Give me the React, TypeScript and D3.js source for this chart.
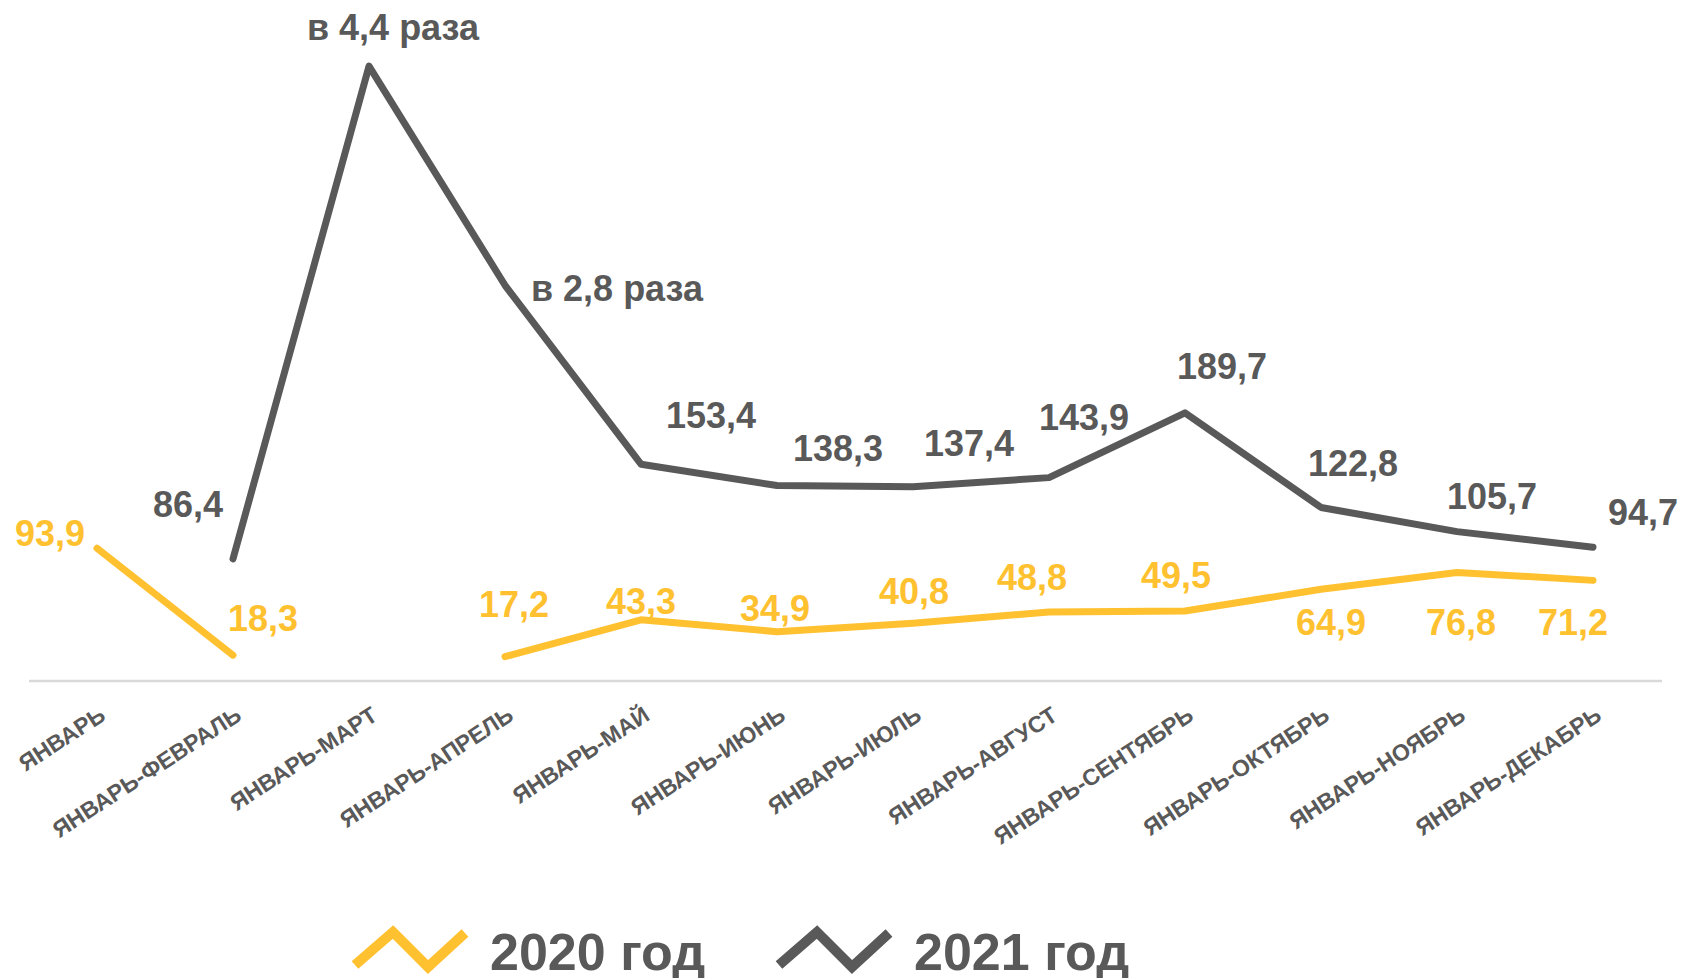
import * as d3 from 'd3';
import React from "react";

// categories and values
const months = [
    'ЯНВАРЬ', 'ЯНВАРЬ-ФЕВРАЛЬ', 'ЯНВАРЬ-МАРТ', 'ЯНВАРЬ-АПРЕЛЬ', 'ЯНВАРЬ-МАЙ', 'ЯНВАРЬ-ИЮНЬ',
    'ЯНВАРЬ-ИЮЛЬ', 'ЯНВАРЬ-АВГУСТ', 'ЯНВАРЬ-СЕНТЯБРЬ', 'ЯНВАРЬ-ОКТЯБРЬ', 'ЯНВАРЬ-НОЯБРЬ', 'ЯНВАРЬ-ДЕКАБРЬ',
];
const values2020: (number | null)[] = [93.9, 18.3, null, 17.2, 43.3, 34.9, 40.8, 48.8, 49.5, 64.9, 76.8, 71.2];
const values2021: (number | null)[] = [null, 86.4, 435, 280, 153.4, 138.3, 137.4, 143.9, 189.7, 122.8, 105.7, 94.7];
const labels2020 = ['93,9', '18,3', '', '17,2', '43,3', '34,9', '40,8', '48,8', '49,5', '64,9', '76,8', '71,2'];
const labels2021 = ['', '86,4', 'в 4,4 раза', 'в 2,8 раза', '153,4', '138,3', '137,4', '143,9', '189,7', '122,8', '105,7', '94,7'];
const legendNames = ['2020 год', '2021 год'];

// hand placed label offsets (px from the point), as in the source chart
const off2020 = [[-47, -15], [30, -37], [0, 0], [9, -53], [0, -19], [-2, -24], [1, -32], [-17, -35], [-9, -36], [10, 33], [4, 50], [-20, 42]];
const off2021 = [[0, 0], [-45, -55], [24, -39], [112, 3], [70, -49], [61, -37], [56, -44], [35, -61], [37, -47], [32, -44], [35, -36], [50, -35]];

const YELLOW = '#FFC12F';
const GRAY = '#595959';
const FONT = '"Liberation Sans", Arial, sans-serif';

const W = 1683, H = 978;

export default function App() {
    const x = d3.scalePoint<string>().domain(months).range([97, 1593]);
    const y = d3.scaleLinear().domain([0, 450]).range([681, 45]);

    const lineGen = d3.line<number | null>()
        .defined(d => d != null)
        .x((_, i) => x(months[i])!)
        .y(d => y(d as number));

    const series = [
        { vals: values2020, labels: labels2020, offs: off2020, color: YELLOW },
        { vals: values2021, labels: labels2021, offs: off2021, color: GRAY },
    ];

    return (
        <svg width={W} height={H} style={{ position: 'absolute', left: 0, top: 0, background: '#fff' }} fontFamily={FONT}>
            <line x1={29} x2={1662} y1={y(0)} y2={y(0)} stroke="#d9d9d9" strokeWidth={2.5} />

            {months.map(m => (
                <text key={m} transform={`translate(${x(m)! + 10},${y(0) + 38}) rotate(-33)`}
                    textAnchor="end" fontSize={23} fontWeight="bold" fill={GRAY}>{m}</text>
            ))}

            {series.map((s, si) => (
                <g key={si}>
                    <path d={lineGen(s.vals) ?? undefined} fill="none" stroke={s.color} strokeWidth={7}
                        strokeLinecap="round" strokeLinejoin="round" />
                    {s.vals.map((v, i) => v == null ? null : (
                        <text key={i} x={x(months[i])! + s.offs[i][0]} y={y(v) + s.offs[i][1]} dy="0.36em"
                            textAnchor="middle" fontSize={36} fontWeight="bold" fill={s.color}>{s.labels[i]}</text>
                    ))}
                </g>
            ))}

            {legendNames.map((name, i) => {
                const lx = 355 + i * 424;
                const color = i === 0 ? YELLOW : GRAY;
                return (
                    <g key={name}>
                        <polyline points={`${lx},965 ${lx + 38},932 ${lx + 73},967 ${lx + 110},933`}
                            fill="none" stroke={color} strokeWidth={10} strokeLinejoin="miter" />
                        <text x={lx + 135} y={970} fontSize={52} fontWeight="bold" fill={GRAY}>{name}</text>
                    </g>
                );
            })}
        </svg>
    );
}
